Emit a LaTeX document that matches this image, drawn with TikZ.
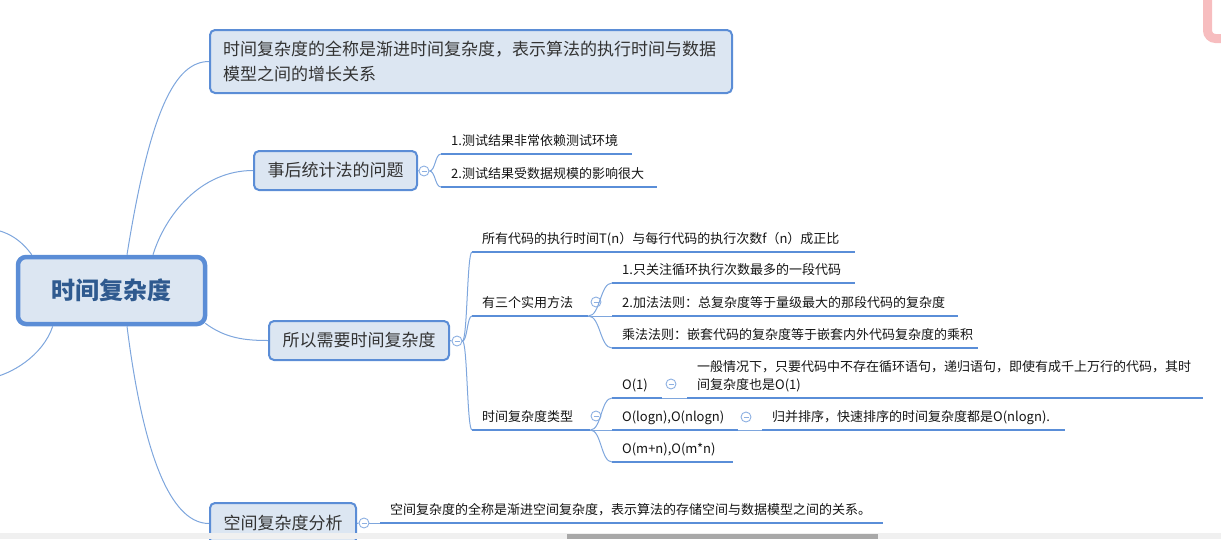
\documentclass[tikz,border=0pt]{standalone}
\usepackage{fontspec}
\setmainfont{Noto Sans CJK SC}
\definecolor{bcol}{HTML}{5B8DD6}
\definecolor{fcol}{HTML}{DCE6F2}
\definecolor{tcol}{HTML}{333333}
\definecolor{mtext}{HTML}{2F5A8F}
\definecolor{ltxt}{HTML}{141414}
\definecolor{ucol}{HTML}{5A8ED8}
\definecolor{ccol}{HTML}{7EA6DD}
\definecolor{kcol}{HTML}{8DB0E2}
\definecolor{sbg}{HTML}{F0F0F0}
\definecolor{sthumb}{HTML}{A8A8A8}
\definecolor{pinkc}{HTML}{F7BDBF}
\begin{document}
\begin{tikzpicture}[x=1pt,y=-1pt,
  box/.style={draw=bcol, line width=2pt, fill=fcol, rounded corners=5pt, text=tcol,
    font=\fontsize{17}{25}\selectfont, inner sep=0pt},
  mainbox/.style={draw=bcol, line width=4.5pt, fill=fcol, rounded corners=8pt, text=mtext,
    font=\fontsize{24}{28}\selectfont\bfseries, inner sep=0pt},
  leaf/.style={anchor=south west, inner xsep=10pt, inner ysep=4pt, text height=10pt,
    text depth=4pt, align=left, font=\fontsize{13}{18}\selectfont, text=ltxt},
  uline/.style={draw=ucol, line width=2.5pt},
  conn/.style={draw=ccol, line width=1pt},
  fold/.style={circle, draw=kcol, fill=white, line width=0.9pt, minimum size=10pt, inner sep=0pt,
    path picture={\draw[kcol, line width=0.9pt] ([xshift=2.5pt]path picture bounding box.west) -- ([xshift=-2.5pt]path picture bounding box.east);}}
]
\useasboundingbox (0,0) rectangle (1221,539);
\clip (0,0) rectangle (1221,539);

% main topics
\node[mainbox, minimum width=187pt, minimum height=67pt] (m) at (111.5,290.5) {时间复杂度};
\node[box, minimum width=522pt, minimum height=63pt, text width=496pt, align=left] (n1) at (471,61.5)
  {时间复杂度的全称是渐进时间复杂度，表示算法的执行时间与数据\\模型之间的增长关系};
\node[box, minimum width=163pt, minimum height=39pt] (n2) at (335.5,170.5) {事后统计法的问题};
\node[box, minimum width=180pt, minimum height=39pt] (n3) at (359,340.5) {所以需要时间复杂度};
\node[box, minimum width=146pt, minimum height=41pt] (n4) at (283,523.5) {空间复杂度分析};

% connectors from main node
\draw[conn] ([xshift=15.5pt]m.north) .. controls +(23,-144) and +(-34,0) .. (n1.west);
\draw[conn] ([xshift=41.5pt]m.north) .. controls +(12,-39) and +(-53,0) .. (n2.west);
\draw[conn] ([xshift=-2pt,yshift=3pt]m.south east) .. controls +(20,15) and +(-23,0) .. (n3.west);
\draw[conn] ([xshift=15.5pt]m.south) .. controls +(18,143) and +(-34,0) .. (n4.west);
\coordinate (L1) at (-10,229);
\coordinate (L2) at (-10,378);
\draw[conn] ([xshift=16pt]m.north west) .. controls +(-10,-14) and +(18,2) .. (L1);
\draw[conn] ([xshift=37pt]m.south west) .. controls +(-10,30) and +(20,-3) .. (L2);

% fold circles
\node[fold] (k2) at (424,171) {};
\node[fold] (k3) at (457,341) {};
\node[fold] (k4) at (364,523) {};
\draw[conn] (n2.east) -- (k2.west);
\draw[conn] (n3.east) -- (k3.west);
\draw[conn] (n4.east) -- (k4.west);

% children of n2
\node[leaf, text width=171pt] (c21) at (441,154) {1.测试结果非常依赖测试环境};
\node[leaf, text width=196pt] (c22) at (441,187) {2.测试结果受数据规模的影响很大};
\foreach \c in {c21,c22} {
  \draw[uline] (\c.south west) -- (\c.south east);
  \draw[conn] (k2.east) .. controls +(6,0) and +(-6,0) .. (\c.south west);
}

% children of n3
\node[leaf, text width=363pt] (c31) at (472,252) {所有代码的执行时间T(n）与每行代码的执行次数f（n）成正比};
\node[leaf, text width=96pt] (c32) at (472,316) {有三个实用方法};
\node[leaf, text width=98pt] (c33) at (472,430) {时间复杂度类型};
\foreach \c in {c31,c32,c33} {
  \draw[uline] (\c.south west) -- (\c.south east);
  \draw[conn] (k3.east) .. controls +(5,0) and +(-5,0) .. (\c.south west);
}
\node[fold] (k32) at (596,302) {};
\node[fold] (k33) at (596,416) {};

% children of c32
\node[leaf, text width=223pt] (c321) at (612,283) {1.只关注循环执行次数最多的一段代码};
\node[leaf, text width=326pt] (c322) at (612,316) {2.加法法则：总复杂度等于量级最大的那段代码的复杂度};
\node[leaf, text width=346pt] (c323) at (612,348) {乘法法则：嵌套代码的复杂度等于嵌套内外代码复杂度的乘积};
\foreach \c in {c321,c322,c323} {
  \draw[uline] (\c.south west) -- (\c.south east);
  \draw[conn] (c32.south east) .. controls +(12,0) and +(-12,0) .. (\c.south west);
}

% children of c33
\node[leaf, text width=30pt] (c331) at (612,398) {O(1)};
\node[leaf, text width=106pt] (c332) at (612,430) {O(logn),O(nlogn)};
\node[leaf, text width=101pt] (c333) at (612,462) {O(m+n),O(m*n)};
\foreach \c in {c331,c332,c333} {
  \draw[uline] (\c.south west) -- (\c.south east);
  \draw[conn] (c33.south east) .. controls +(11,0) and +(-11,0) .. (\c.south west);
}
\node[fold] (k331) at (671,384) {};
\node[fold] (k332) at (746,417) {};

% grandchildren
\node[leaf, text width=496pt, text depth=22pt] (c3311) at (687,398)
  {一般情况下，只要代码中不存在循环语句，递归语句，即使有成千上万行的代码，其时\\间复杂度也是O(1)};
\node[leaf, text width=283pt] (c3321) at (762,430) {归并排序，快速排序的时间复杂度都是O(nlogn).};
\draw[uline] (c3311.south west) -- (c3311.south east);
\draw[uline] (c3321.south west) -- (c3321.south east);
\draw[conn] (c331.south east) -- (c3311.south west);
\draw[conn] (c332.south east) -- (c3321.south west);

% child of n4
\node[leaf, text width=483pt] (c41) at (380,523) {空间复杂度的全称是渐进空间复杂度，表示算法的存储空间与数据模型之间的关系。};
\draw[uline] (c41.south west) -- (c41.south east);
\draw[conn] (k4.east) -- (c41.south west);

% window chrome
\fill[sbg] (0,533) rectangle (1221,539);
\fill[sthumb] (567,534) rectangle (878,539);
\draw[pinkc, line width=9pt, rounded corners=8pt] (1207.5,-10) -- (1207.5,38.5) -- (1240,38.5);
\end{tikzpicture}
\end{document}
